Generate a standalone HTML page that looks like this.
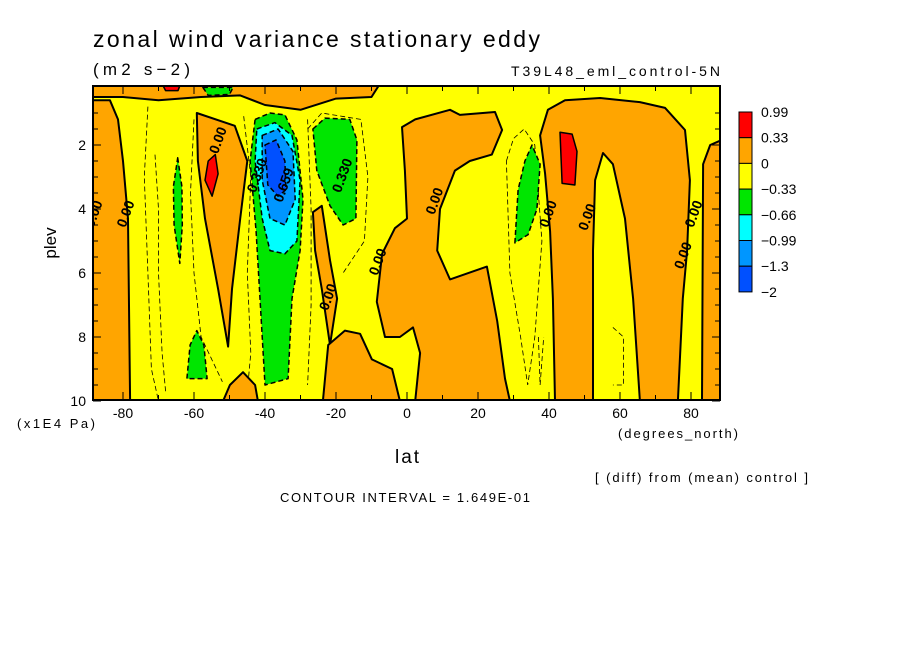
<!DOCTYPE html>
<html><head><meta charset="utf-8"><style>
body{margin:0;background:#fff;}
svg text{font-family:"Liberation Sans",sans-serif;}
</style></head><body>
<svg id="c" width="904" height="654" xmlns="http://www.w3.org/2000/svg">
<rect width="904" height="654" fill="#fff"/>
<text x="93" y="47" font-size="23" textLength="447" lengthAdjust="spacing">zonal wind variance stationary eddy</text>
<text x="93" y="75" font-size="17" textLength="97" lengthAdjust="spacing">(m2 s−2)</text>
<text x="511" y="76" font-size="14" textLength="209" lengthAdjust="spacing">T39L48_eml_control-5N</text>
<g id="plot"></g>
<text x="395" y="463" font-size="19" textLength="24" lengthAdjust="spacing">lat</text>
<text x="56" y="243" font-size="17" text-anchor="middle" transform="rotate(-90 56 243)">plev</text>
<text x="17" y="428" font-size="13" textLength="78" lengthAdjust="spacing">(x1E4 Pa)</text>
<text x="618" y="438" font-size="13" textLength="120" lengthAdjust="spacing">(degrees_north)</text>
<text x="595" y="482" font-size="13" textLength="213" lengthAdjust="spacing">[ (diff) from (mean) control ]</text>
<text x="280" y="502" font-size="13" textLength="250" lengthAdjust="spacing">CONTOUR INTERVAL = 1.649E-01</text>
<g id="cbar"></g>
</svg>
<script>
const xTicks=[-80,-60,-40,-20,0,20,40,60,80];
const yTicks=[2,4,6,8,10];
const cbLabels=["0.99","0.33","0","−0.33","−0.66","−0.99","−1.3","−2"];
const cbColors=["#ff0000","#ffa500","#ffff00","#00e600","#00ffff","#0096ff","#0050ff"];
const regions=[
 {n:"orange-left-band",c:"#ffa500",p:[[-88.5,0.6],[-83.7,0.6],[-81.4,1.2],[-80,2.5],[-78.6,4.3],[-78,10],[-88.5,10]]},
 {n:"orange-top-strip",c:"#ffa500",p:[[-88.5,0.15],[-8,0.15],[-10,0.5],[-20,0.55],[-30,0.9],[-40,0.75],[-47,0.45],[-58,0.5],[-70,0.6],[-80,0.5],[-88.5,0.5]]},
 {n:"orange-lobe-minus55",c:"#ffa500",p:[[-59.2,1.0],[-48.5,1.4],[-45,2.5],[-47,4.3],[-49.3,6.5],[-50.4,8.3],[-53.2,6.5],[-56.9,4.3],[-58.9,2.5]]},
 {n:"orange-spike-minus25",c:"#ffa500",p:[[-26.5,4.1],[-24,3.9],[-21.7,5.6],[-19.7,6.8],[-21.7,8.25],[-24,6.5],[-25.9,5.3]]},
 {n:"orange-bottom-minus20",c:"#ffa500",p:[[-23.7,10],[-22.2,8.25],[-17.5,7.8],[-13.2,7.9],[-9.9,8.7],[-4.2,9.0],[-2,10]]},
 {n:"orange-bottom-minus45",c:"#ffa500",p:[[-51.8,10],[-49.9,9.5],[-46.2,9.1],[-42.8,9.5],[-42,10]]},
 {n:"orange-central",c:"#ffa500",p:[[-1.4,1.44],[2.3,1.2],[12.1,0.9],[14.9,1.06],[24.8,0.97],[26.8,1.53],[23.9,2.3],[17.7,2.5],[13.5,2.8],[9.3,4.0],[8.5,5.3],[12.1,6.2],[22.5,5.8],[25.4,7.5],[27.6,9.3],[29,10],[2.3,10],[3.7,8.5],[1.7,7.7],[-2,8.0],[-6.2,8.0],[-8.5,6.9],[-7,5.4],[-3.4,4.6],[0,4.3],[-0.6,2.8]]},
 {n:"orange-right",c:"#ffa500",p:[[37.5,1.7],[39.7,0.9],[44.5,0.6],[54.4,0.53],[65.6,0.66],[72.7,0.84],[78.3,1.53],[79.7,3.1],[78.9,5.3],[77.7,6.8],[76.3,10],[65.6,10],[63.7,6.8],[61.4,4.3],[58,2.6],[55.2,2.25],[53,3.1],[52.4,5.3],[52.4,10],[41.7,10],[41.1,6.8],[40.3,4.7],[38.9,2.9]]},
 {n:"orange-far-right",c:"#ffa500",p:[[83.1,10],[83.4,2.6],[85.4,2.0],[88.7,1.84],[88.7,10]]},
 {n:"red-top",c:"#ff0000",p:[[-68.7,0.15],[-64,0.15],[-64.5,0.3],[-68,0.3]]},
 {n:"red-minus55",c:"#ff0000",p:[[-56,2.5],[-54,2.3],[-53.2,2.9],[-54.9,3.6],[-56.9,3.1]]},
 {n:"red-45n",c:"#ff0000",p:[[43.1,1.6],[46.5,1.66],[47.9,2.2],[47.3,3.25],[43.7,3.2]]},
 {n:"green-top",c:"#00e600",p:[[-57.5,0.2],[-49,0.2],[-50,0.42],[-56,0.45]]},
 {n:"green-thin-minus65",c:"#00e600",p:[[-64.6,2.4],[-63.4,3.3],[-63.3,4.5],[-64,5.7],[-65.6,4.5],[-65.8,3.3]]},
 {n:"green-bottom-minus60",c:"#00e600",p:[[-62,9.3],[-61.1,8.25],[-59.2,7.8],[-57.2,8.25],[-56.3,9.3]]},
 {n:"green-big-minus37",c:"#00e600",p:[[-42.8,1.2],[-38.6,1.0],[-34.4,1.06],[-31,1.84],[-29.3,3.7],[-30.1,5.3],[-32.4,6.8],[-33.5,9.3],[-40,9.5],[-41.4,6.8],[-42.5,4.7],[-44.2,2.5]]},
 {n:"cyan-minus37",c:"#00ffff",p:[[-42.3,1.5],[-37.2,1.3],[-32.4,1.7],[-30.1,3.1],[-31,5.0],[-34.4,5.4],[-38.6,5.3],[-40.8,4.3],[-42.8,2.5]]},
 {n:"blue-mid-minus37",c:"#0096ff",p:[[-40.8,1.7],[-36.3,1.5],[-32.1,2.2],[-31.5,3.7],[-34.4,4.5],[-38.6,4.3],[-40.8,3.1]]},
 {n:"blue-dark-minus37",c:"#0050ff",p:[[-40,2.0],[-36.9,1.84],[-34.4,2.5],[-34.1,3.4],[-36.3,3.6],[-39.2,3.25]]},
 {n:"green-minus20",c:"#00e600",p:[[-26.5,1.5],[-23.1,1.16],[-16.1,1.2],[-14.1,1.84],[-14.4,4.3],[-18,4.5],[-21.7,3.9],[-25.4,2.8]]},
 {n:"green-33n",c:"#00e600",p:[[30.4,5.06],[31.3,3.4],[33.2,2.5],[35.2,2.0],[37.5,2.6],[36.6,4.0],[34.1,4.8]]}
];
const dashedLines=[
 [[-71,2.3],[-70,4],[-70,6],[-69,8.5],[-68,9.7]],
 [[-73,0.8],[-74,3],[-73,6],[-72,9],[-70,10]],
 [[-60,1.2],[-61,3.5],[-60,6],[-58,8],[-52,9.4]],
 [[-46,1.1],[-44,3],[-45,6],[-44,8.5],[-45,9.7]],
 [[-28,1.2],[-27,4],[-27,7],[-28,9.5]],
 [[-28,1.5],[-24,1],[-13,1.2],[-11,3],[-12,5],[-18,6]],
 [[28,2.5],[30,1.8],[33,1.5],[36,2],[38,5],[36,8],[34,9.5],[32,8],[29,6],[28,2.5]],
 [[37,8],[37.5,9.5],[38.5,8]],
 [[58,7.7],[61,8],[61,9.5],[58,9.5]]
];
const labels=[[-87,4.2,"0.00"],[-78,4.2,"0.00"],[-52,1.9,"0.00"],[-41,3,"0.330"],[-33.5,3.3,"0.659"],[-17,3,"0.330"],[-21,6.8,"0.00"],[-7,5.7,"0.00"],[9,3.8,"0.00"],[41,4.2,"0.00"],[52,4.3,"0.00"],[79,5.5,"0.00"],[82,4.2,"0.00"]];
const X0=93,X1=720,Y0=86,Y1=400;
const sx=lat=>407+lat*3.55;
const sy=p=>81+p*32;
const NS="http://www.w3.org/2000/svg";
const plot=document.getElementById('plot');
function mk(t,a,parent){const e=document.createElementNS(NS,t);for(const k in a)e.setAttribute(k,a[k]);parent.appendChild(e);return e;}
const clip=mk('clipPath',{id:'pc'},plot);mk('rect',{x:X0,y:Y0,width:X1-X0,height:Y1-Y0},clip);
const g=mk('g',{'clip-path':'url(#pc)'},plot);
const bg=mk('rect',{x:X0,y:Y0,width:X1-X0,height:Y1-Y0,fill:'#ffff00'},g);


dashedLines.forEach(l=>{
 const e=mk('polyline',{points:l.map(q=>sx(q[0]).toFixed(1)+','+sy(q[1]).toFixed(1)).join(' '),fill:'none',stroke:'#000','stroke-width':0.8,'stroke-dasharray':'5,3'},g);
 
 
});
regions.forEach(r=>{
 const pts=r.p.map(q=>sx(q[0]).toFixed(1)+','+sy(q[1]).toFixed(1)).join(' ');
 const neg=r.c!=="#ffa500"&&r.c!=="#ff0000";
 const e=mk('polygon',{points:pts,fill:r.c,stroke:'#000','stroke-width':r.c==="#ffa500"?2:1.5,'stroke-dasharray':neg?'5,3':'none','stroke-linejoin':'round'},g);
 
 
});
labels.forEach(l=>{
 const x=sx(l[0]),y=sy(l[1]);
 const t=mk('text',{x:x,y:y,'font-size':14,'font-weight':'bold','text-anchor':'middle',transform:`rotate(-70 ${x} ${y})`},g);
 t.textContent=l[2];
 
 
});
const fr=mk('rect',{x:X0,y:Y0,width:X1-X0,height:Y1-Y0,fill:'none',stroke:'#000','stroke-width':2},plot);


for(let lat=-80;lat<=80;lat+=10){const x=sx(lat),L=lat%20===0?8:5;mk('line',{x1:x,x2:x,y1:Y1,y2:Y1-L,stroke:'#000'},plot);mk('line',{x1:x,x2:x,y1:Y0,y2:Y0+L,stroke:'#000'},plot);}
for(let p=1;p<=10;p+=0.5){const y=sy(p),L=p%2===0?8:5;mk('line',{x1:X0,x2:X0+L,y1:y,y2:y,stroke:'#000'},plot);mk('line',{x1:X1,x2:X1-L,y1:y,y2:y,stroke:'#000'},plot);}
xTicks.forEach(v=>{const t=mk('text',{x:sx(v),y:418,'font-size':14,'text-anchor':'middle'},plot);t.textContent=v;
 
 });
yTicks.forEach(v=>{const t=mk('text',{x:86,y:sy(v)+5,'font-size':14,'text-anchor':'end'},plot);t.textContent=v;
 
 });
const cb=document.getElementById('cbar');
const bx=739,by=112,bh=25.7;
cbColors.forEach((c,i)=>{const r=mk('rect',{x:bx,y:by+i*bh,width:13,height:bh,fill:c,stroke:'#000','stroke-width':1},cb);
 
 });
cbLabels.forEach((s,i)=>{const t=mk('text',{x:761,y:by+i*bh+5,'font-size':14},cb);t.textContent=s;
 
 });
</script>
</body></html>
